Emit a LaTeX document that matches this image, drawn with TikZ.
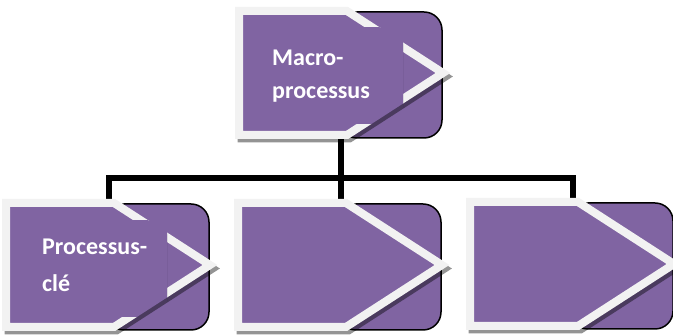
\documentclass[tikz,border=0pt]{standalone}
\usepackage{fontspec}
\setmainfont{Carlito}
\definecolor{boxpurple}{HTML}{8064A2}
\definecolor{rimwhite}{HTML}{F2F2F2}
\tikzset{
  x=1pt, y=-1pt,
  backpanel/.style={fill=boxpurple, draw=black, line width=1.5pt, rounded corners=18pt},
  chevfront/.style={fill=boxpurple, draw=rimwhite, line width=8pt, line join=miter},
  chevshade/.style={fill=black, fill opacity=0.42},
  link/.style={draw=black, line width=6pt, line join=miter},
  boxtext/.style={font=\bfseries\fontsize{24}{28}\selectfont, text=white, inner sep=0pt, anchor=base west},
  % chevron centre line and its outer (stroke-included) outline
  chevline/.style={insert path={(0,0) -- (108,0) -- (204,62) -- (108,124) -- (0,124) -- cycle}},
  chevouter/.style={insert path={(-4,-4) -- (109.2,-4) -- (211.4,62) -- (109.2,128) -- (-4,128) -- cycle}},
}
\begin{document}
\begin{tikzpicture}
\useasboundingbox (0,0) rectangle (673,336);

% attachment points of the connectors
\coordinate (macro-foot) at (341,136);
\coordinate (hub) at (341,178);
\coordinate (key-head) at (109,203);
\coordinate (mid-head) at (341,203);
\coordinate (right-head) at (573,203);

% tree connectors (behind the boxes)
\draw[link] (macro-foot) -- (hub);
\draw[link] (key-head) |- (hub) -| (right-head);
\draw[link] (hub) -- (mid-head);

% one chevron box: panel, shadow, chevron
\newcommand\chevbox[2]{%
  \begin{scope}[shift={(#1,#2)}]
    \draw[backpanel] (100,1) rectangle (203,127);
    \path[chevshade, shift={(2.5,3.5)}, chevouter];
    \path[chevfront, chevline];
  \end{scope}}
% text panel laid over a chevron (hides part of the rim, keeps the shadow)
\newcommand\textpanel[6]{%
  \begin{scope}
    \clip (#3,#4) rectangle (#5,#6);
    \fill[boxpurple] (#3,#4) rectangle (#5,#6);
    \begin{scope}[shift={(#1,#2)}]
      \path[chevshade, shift={(2.5,3.5)}, chevouter];
      \path[fill=boxpurple, chevouter];
    \end{scope}
  \end{scope}}

% macro-process
\chevbox{239}{11}
\textpanel{239}{11}{251}{28}{403}{124}
\node[boxtext] (macro-l1) at (272,66) {Macro-};
\node[boxtext] (macro-l2) at (272,99) {processus};

% key process
\chevbox{6}{203}
\textpanel{6}{203}{18}{221}{167}{317}
\node[boxtext] (key-l1) at (42,255) {Processus-};
\node[boxtext] (key-l2) at (42,292) {clé};

% empty process boxes
\chevbox{238}{203}
\chevbox{470}{202}
\end{tikzpicture}
\end{document}
